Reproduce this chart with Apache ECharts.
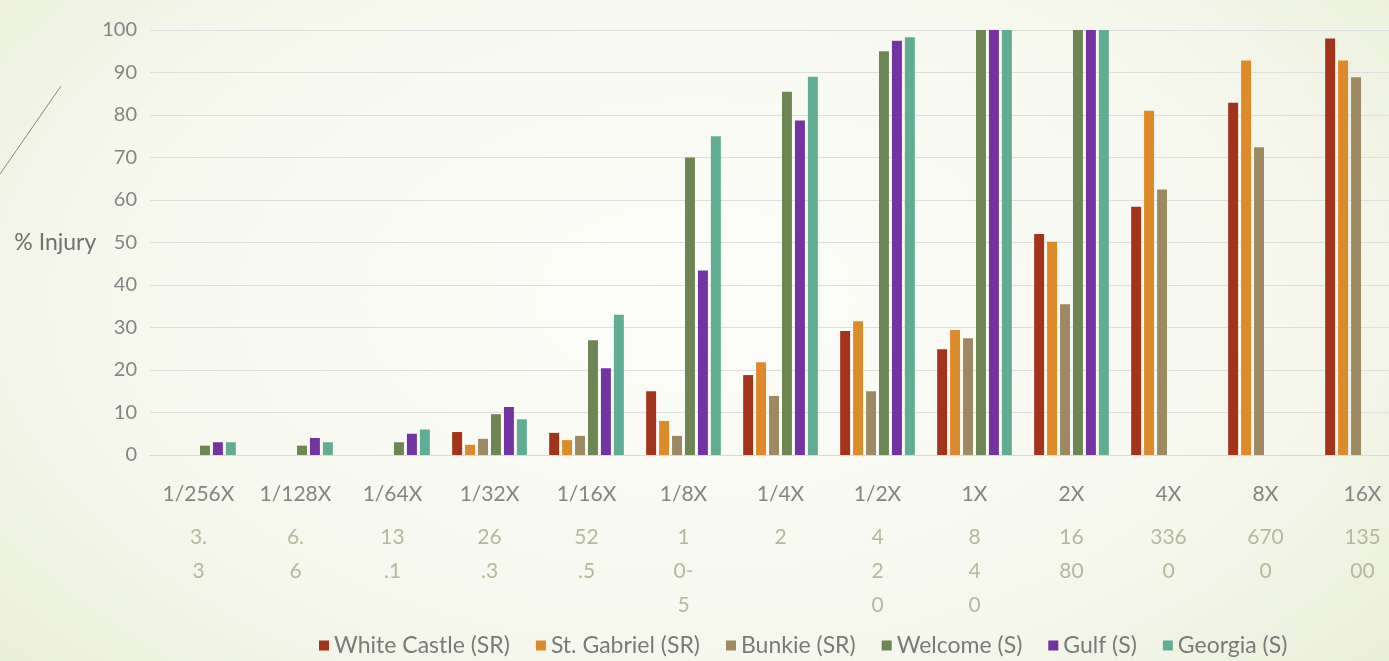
<!DOCTYPE html>
<html>
<head>
<meta charset="utf-8">
<script src="https://cdn.jsdelivr.net/npm/echarts@6/dist/echarts.min.js"></script>
<style>
html,body{margin:0;padding:0;width:1389px;height:661px;overflow:hidden;
background:radial-gradient(ellipse 75% 95% at 50% 45%, #fdfdfa 0%, #f6f8ee 55%, #e6ecd3 100%);}
#c{width:1389px;height:661px;}
</style>
</head>
<body>
<div id="c"></div>
<script>
const doseLabels = ["1/256X","1/128X","1/64X","1/32X","1/16X","1/8X","1/4X","1/2X","1X","2X","4X","8X","16X"];
const amountLabels = ["3.\n3","6.\n6","13\n.1","26\n.3","52\n.5","1\n0-\n5","2","4\n2\n0","8\n4\n0","16\n80","336\n0","670\n0","135\n00"];
const seriesNames = ["White Castle (SR)","St. Gabriel (SR)","Bunkie (SR)","Welcome (S)","Gulf (S)","Georgia (S)"];
const whiteCastle = [null,null,null,5.4,5.2,15,18.8,29.2,24.9,52,58.4,82.9,98];
const stGabriel   = [null,null,null,2.4,3.5,8,21.8,31.5,29.4,50.2,81,92.8,92.8];
const bunkie      = [null,null,null,3.8,4.5,4.5,13.9,15,27.5,35.5,62.5,72.4,88.9];
const welcome     = [2.2,2.2,3,9.6,27,70,85.5,95,100,100,null,null,null];
const gulf        = [3,4,5,11.3,20.4,43.4,78.7,97.5,100,100,null,null,null];
const georgia     = [3,3,6,8.4,33,75,89,98.3,100,100,null,null,null];
const colors = ["#a3341b","#dc8a2a","#9d8a62","#6e8654","#7433a3","#61ad94"];

const allData = [whiteCastle, stGabriel, bunkie, welcome, gulf, georgia];
const chart = echarts.init(document.getElementById('c'));
const font = 'Lato, "Noto Sans", sans-serif';

chart.setOption({
  backgroundColor: 'transparent',
  animation: false,
  color: colors,
  grid: {left: 150, width: 1261, top: 30, bottom: 206, containLabel: false, outerBoundsMode: 'none'},
  legend: {
    data: seriesNames, top: 629, left: 314,
    icon: 'rect', itemWidth: 10, itemHeight: 10, itemGap: 26,
    textStyle: {color: '#7a7a7a', fontSize: 23, fontFamily: font}
  },
  xAxis: {
    type: 'category', data: doseLabels,
    axisLine: {show: true, lineStyle: {color: '#d9d9d9'}},
    axisTick: {show: false},
    axisLabel: {
      interval: 0, margin: 13, fontFamily: font,
      formatter: function(v, i){
        const lines = amountLabels[i].split('\n').map(s => '{b|' + s + '}').join('\n');
        return '{a|' + v + '}\n' + lines;
      },
      rich: {
        a: {color: '#858585', fontSize: 21, fontFamily: font, lineHeight: 52},
        b: {color: '#b8b89c', fontSize: 21, fontFamily: font, lineHeight: 34}
      }
    }
  },
  yAxis: {
    type: 'value', min: 0, max: 100, interval: 10,
    name: '% Injury', nameLocation: 'middle', nameRotate: 0, nameGap: 53,
    nameTextStyle: {color: '#707070', fontSize: 23, fontFamily: font, align: 'right'},
    axisLine: {show: false}, axisTick: {show: false},
    axisLabel: {color: '#858585', fontSize: 20, fontFamily: font, margin: 13},
    splitLine: {lineStyle: {color: '#dedede', width: 1}}
  },
  graphic: [{
    type: 'line', shape: {x1: 0, y1: 174, x2: 61, y2: 86},
    style: {stroke: '#858a78', lineWidth: 1}
  }],
  series: seriesNames.map((n, k) => ({
    name: n, type: 'bar', data: allData[k],
    barGap: '30%', barCategoryGap: '23%'
  }))
});
</script>
</body>
</html>
